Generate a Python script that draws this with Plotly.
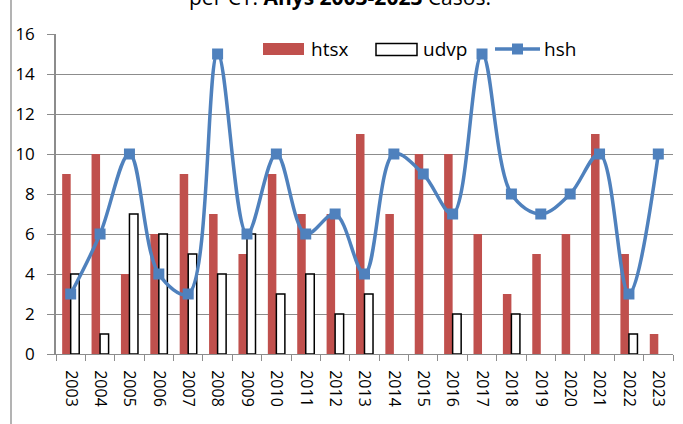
import plotly.graph_objects as go

years = [str(y) for y in range(2003, 2024)]
htsx = [9, 10, 4, 6, 9, 7, 5, 9, 7, 7, 11, 7, 10, 10, 6, 3, 5, 6, 11, 5, 1]
udvp = [4, 1, 7, 6, 5, 4, 6, 3, 4, 2, 3, 0, 0, 2, 0, 2, 0, 0, 0, 1, 0]
hsh = [3, 6, 10, 4, 3, 15, 6, 10, 6, 7, 4, 10, 9, 7, 15, 8, 7, 8, 10, 3, 10]
y_ticks = [0, 2, 4, 6, 8, 10, 12, 14, 16]

RED = "#C0504D"
BLUE = "#4F81BD"
GRID = "#8C8C8C"
FONT = "Open Sans"

W, H = 683, 424
L, R, T, B = 56, 10, 34, 70
PW, PH = W - L - R, H - T - B


def px(x):
    return (x - L) / PW


def py(y):
    return (H - B - y) / PH


fig = go.Figure()
fig.add_trace(go.Bar(x=years, y=htsx, name="htsx", marker=dict(color=RED, line=dict(width=0))))
fig.add_trace(go.Bar(x=years, y=udvp, name="udvp",
                     marker=dict(color="white",
                                 line=dict(color="black",
                                           width=[1.5 if v else 0 for v in udvp]))))
fig.add_trace(go.Scatter(x=years, y=hsh, name="hsh", mode="lines+markers",
                         line=dict(color=BLUE, width=3.5, shape="spline", smoothing=1.0),
                         marker=dict(symbol="square", size=11, color=BLUE)))

shapes = [
    # chart-area left border
    dict(type="line", xref="paper", yref="paper", x0=px(11), x1=px(11), y0=py(H), y1=py(0),
         line=dict(color="#9A9A9A", width=1.5)),
    # legend swatches
    dict(type="rect", xref="paper", yref="paper", x0=px(263), x1=px(304), y0=py(55), y1=py(43),
         fillcolor=RED, line=dict(width=0)),
    dict(type="rect", xref="paper", yref="paper", x0=px(376), x1=px(417), y0=py(55.5), y1=py(43.5),
         fillcolor="white", line=dict(color="black", width=1.5)),
    dict(type="line", xref="paper", yref="paper", x0=px(495), x1=px(540), y0=py(49), y1=py(49),
         line=dict(color=BLUE, width=3.5)),
    dict(type="rect", xref="paper", yref="paper", x0=px(512), x1=px(523), y0=py(54.5), y1=py(43.5),
         fillcolor=BLUE, line=dict(width=0)),
]

annotations = [
    dict(text="per CT. <b>Anys 2003-2023</b> Casos.", xref="paper", yref="paper",
         x=px(340), y=py(13), xanchor="center", yanchor="bottom", showarrow=False,
         font=dict(family=FONT, size=21, color="black")),
    dict(text="htsx", xref="paper", yref="paper", x=px(309), y=py(49), xanchor="left",
         yanchor="middle", showarrow=False, font=dict(family=FONT, size=19, color="black")),
    dict(text="udvp", xref="paper", yref="paper", x=px(421), y=py(49), xanchor="left",
         yanchor="middle", showarrow=False, font=dict(family=FONT, size=19, color="black")),
    dict(text="hsh", xref="paper", yref="paper", x=px(542), y=py(49), xanchor="left",
         yanchor="middle", showarrow=False, font=dict(family=FONT, size=19, color="black")),
]

fig.update_layout(
    width=W, height=H,
    margin=dict(l=L, r=R, t=T, b=B, pad=0),
    paper_bgcolor="white", plot_bgcolor="white",
    barmode="group", bargap=0.42, bargroupgap=0,
    showlegend=False,
    font=dict(family=FONT, size=17, color="black"),
    shapes=shapes, annotations=annotations,
)
fig.update_xaxes(type="category", range=[-0.5, len(years) - 0.5], tickangle=90,
                 ticks="outside", tickson="boundaries", ticklen=6, tickcolor=GRID,
                 showline=True, linecolor=GRID, linewidth=1, showgrid=False,
                 tickfont=dict(family=FONT, size=16), ticklabelstandoff=12)
fig.update_yaxes(range=[0, 16], tickvals=y_ticks, ticks="outside", ticklen=7, tickcolor=GRID,
                 showline=True, linecolor=GRID, linewidth=1.5, gridcolor=GRID, gridwidth=1,
                 zeroline=False, tickfont=dict(family=FONT, size=17), ticklabelstandoff=9)

fig.write_html("out.html", config={"displayModeBar": False},
               post_script="document.body.style.margin='0';")
